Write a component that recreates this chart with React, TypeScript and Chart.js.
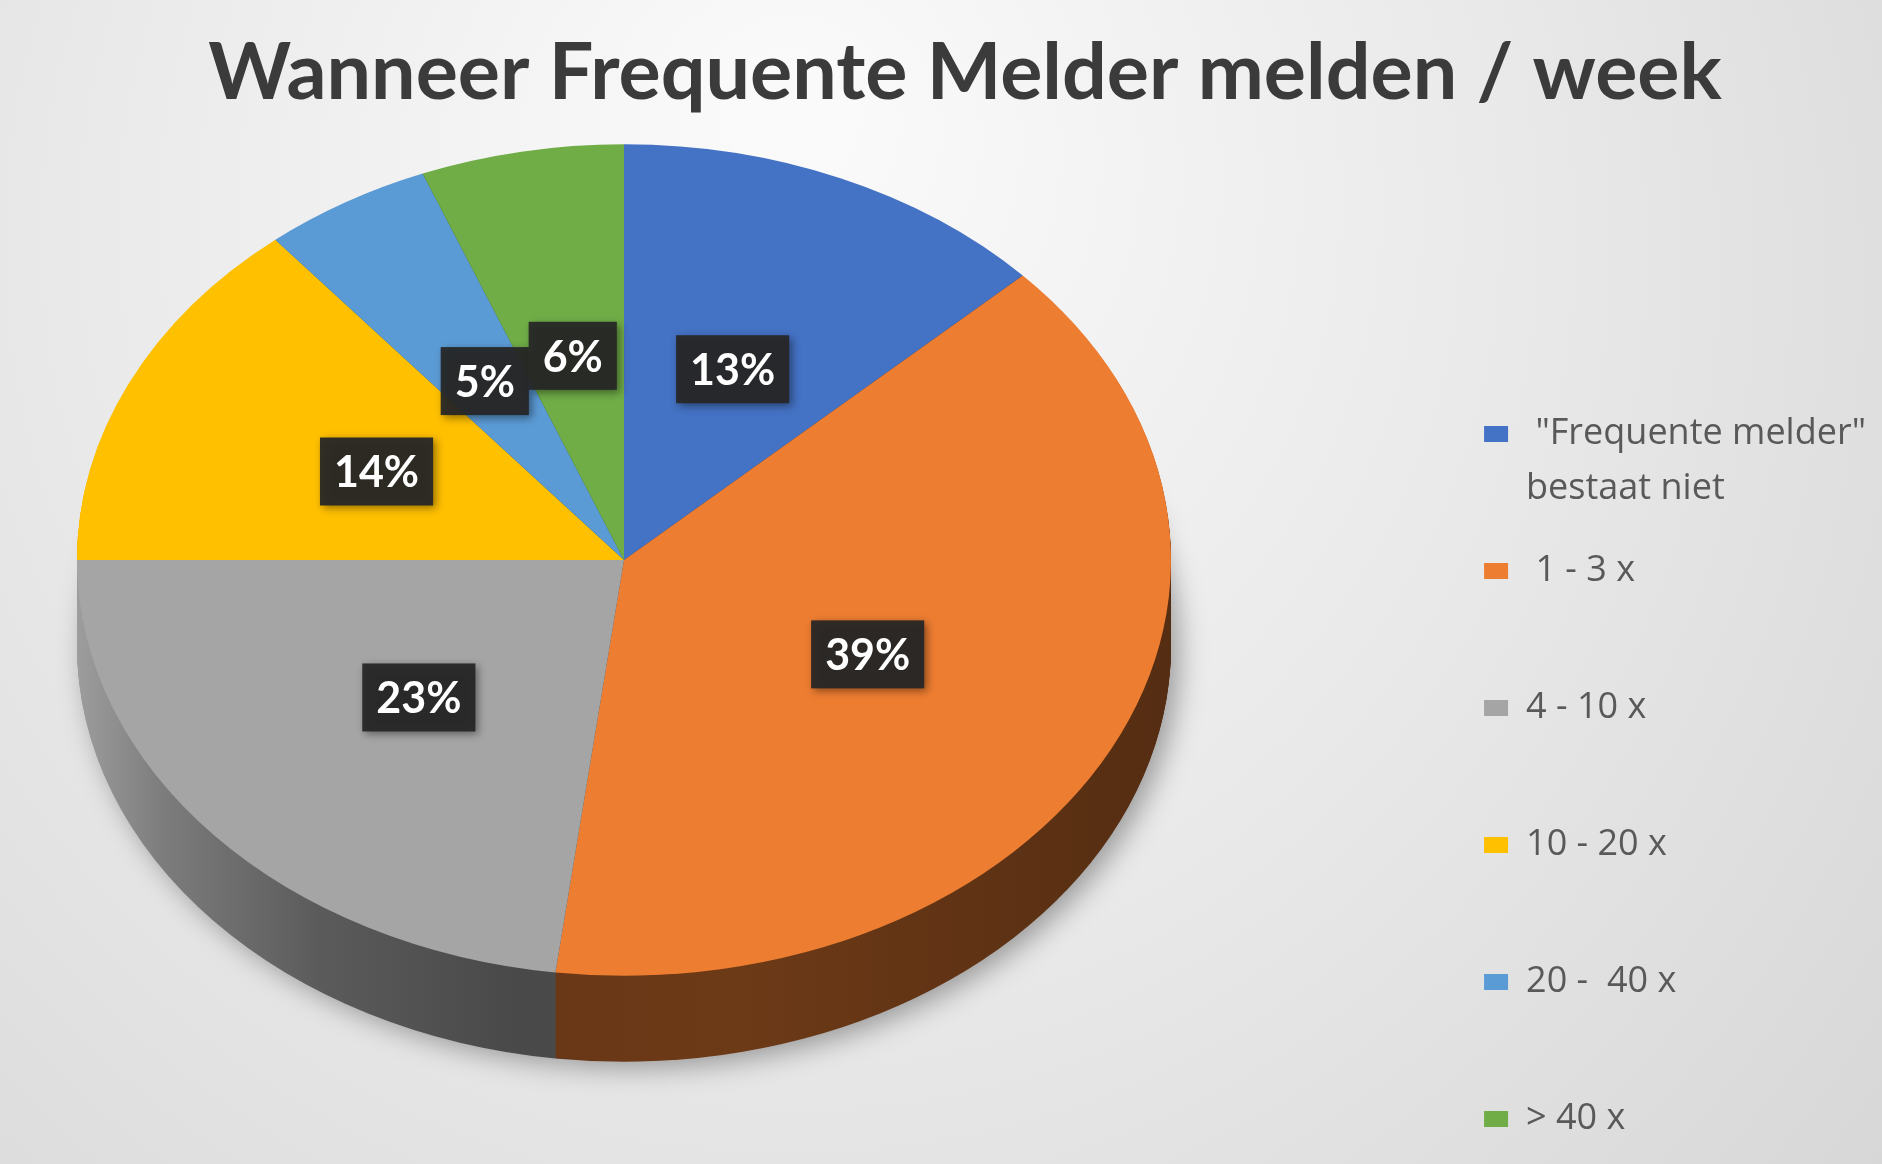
import { useEffect, useRef } from 'react';
import { Chart, registerables, ArcElement } from 'chart.js';

Chart.register(...registerables);

// ---- data ----
const chartTitle = 'Wanneer Frequente Melder melden / week';
const categories: (string | string[])[] = [
  [' "Frequente melder"', 'bestaat niet'],
  ' 1 - 3 x',
  '4 - 10 x',
  '10 - 20 x',
  '20 -  40 x',
  '> 40 x',
];
const percentages = [13, 39, 23, 14, 5, 6];
const sliceColors = ['#4472C4', '#ED7D31', '#A5A5A5', '#FFC000', '#5B9BD5', '#70AD47'];

// ---- helpers ----
function shade(hex: string, f: number) {
  const n = parseInt(hex.slice(1), 16);
  const r = Math.round(((n >> 16) & 255) * f);
  const g = Math.round(((n >> 8) & 255) * f);
  const b = Math.round((n & 255) * f);
  return `rgb(${r},${g},${b})`;
}

const backgroundPlugin = {
  id: 'bgPaint',
  beforeDraw(chart: any) {
    const { ctx, width, height } = chart;
    ctx.save();
    const g = ctx.createRadialGradient(width * 0.42, height * 0.1, 50, width * 0.42, height * 0.3, width * 0.75);
    g.addColorStop(0, '#fafafa');
    g.addColorStop(0.5, '#e9e9e9');
    g.addColorStop(1, '#d6d6d6');
    ctx.fillStyle = g;
    ctx.fillRect(0, 0, width, height);
    ctx.restore();
  },
};

const pie3dPlugin = {
  id: 'pie3d',
  beforeDatasetsDraw(chart: any, _args: any, opts: any) {
    const ctx = chart.ctx as CanvasRenderingContext2D;
    const arcs = chart.getDatasetMeta(0).data as any[];
    ctx.save();
    if (!arcs.length) return;
    const ox = arcs[0].x;
    const oy = arcs[0].y;
    const apply = (dy: number) => {
      ctx.translate(opts.centerX, opts.centerY + dy);
      ctx.scale(1, opts.tilt);
      ctx.translate(-ox, -oy);
    };
    const grads = arcs.map((arc, i) => {
      const R = arc.outerRadius;
      const g = ctx.createLinearGradient(ox - R, 0, ox + R, 0);
      (opts.sideShade as number[][]).forEach(([t, f]) => g.addColorStop(t, shade(sliceColors[i], f)));
      return g;
    });
    for (let d = opts.depth; d >= 1; d--) {
      ctx.save();
      if (d === opts.depth) {
        ctx.shadowColor = 'rgba(0,0,0,0.35)';
        ctx.shadowBlur = 28;
        ctx.shadowOffsetX = 8;
        ctx.shadowOffsetY = 6;
      }
      apply(d);
      arcs.forEach((arc, i) => {
        const tmp = Object.create(arc);
        tmp.options = { ...arc.options, backgroundColor: grads[i], borderWidth: 0 };
        ArcElement.prototype.draw.call(tmp, ctx);
      });
      ctx.restore();
    }
    apply(0);
  },
  afterDatasetsDraw(chart: any, _args: any, opts: any) {
    const ctx = chart.ctx as CanvasRenderingContext2D;
    ctx.restore();
    const arcs = chart.getDatasetMeta(0).data as any[];
    if (!arcs.length) return;
    const ox = arcs[0].x;
    const oy = arcs[0].y;
    ctx.save();
    ctx.font = opts.labelFont;
    ctx.textAlign = 'center';
    ctx.textBaseline = 'middle';
    arcs.forEach((arc, i) => {
      const p = arc.tooltipPosition(false);
      const sx = opts.centerX + (p.x - ox);
      const sy = opts.centerY + (p.y - oy) * opts.tilt;
      const text = `${percentages[i]}%`;
      const tw = ctx.measureText(text).width;
      const w = tw + 28;
      const h = 68;
      ctx.save();
      ctx.shadowColor = 'rgba(0,0,0,0.45)';
      ctx.shadowBlur = 8;
      ctx.shadowOffsetX = 3;
      ctx.shadowOffsetY = 3;
      ctx.fillStyle = 'rgba(38,38,38,0.94)';
      ctx.fillRect(sx - w / 2, sy - h / 2, w, h);
      ctx.restore();
      ctx.fillStyle = '#ffffff';
      ctx.fillText(text, sx, sy + 2);
    });
    ctx.restore();
  },
};

export default function App() {
  const canvasRef = useRef<HTMLCanvasElement>(null);

  useEffect(() => {
    const canvas = canvasRef.current;
    if (!canvas) return;
    const chart = new Chart(canvas, {
      type: 'pie',
      data: {
        labels: categories as any,
        datasets: [
          {
            data: percentages,
            backgroundColor: sliceColors,
            borderWidth: 0,
            radius: 547,
          } as any,
        ],
      },
      options: {
        animation: false,
        responsive: true,
        maintainAspectRatio: false,
        events: [],
        layout: { padding: { left: 54, right: 6, top: 0, bottom: 0 } },
        plugins: {
          tooltip: { enabled: false },
          title: {
            display: true,
            text: chartTitle,
            color: '#3b3b3b',
            font: { family: 'Lato', weight: 'bold', size: 79 },
            padding: { top: 26, bottom: 10 },
          },
          legend: {
            position: 'right',
            align: 'end',
            labels: {
              color: '#595959',
              font: { family: '"Open Sans"', size: 36, lineHeight: '55px' } as any,
              boxWidth: 24,
              boxHeight: 16,
              padding: 27,
              generateLabels: (ch: any) => {
                const base = (Chart as any).overrides.pie.plugins.legend.labels.generateLabels(ch);
                return base.map((it: any, i: number) => ({
                  ...it,
                  lineWidth: 0,
                  text: Array.isArray(it.text) ? it.text : i < base.length - 1 ? [it.text, ''] : it.text,
                }));
              },
            },
          },
          pie3d: {
            centerX: 624,
            centerY: 560,
            tilt: 0.76,
            depth: 86,
            sideShade: [
              [0, 0.95],
              [0.08, 0.75],
              [0.22, 0.55],
              [0.4, 0.44],
              [0.6, 0.46],
              [1, 0.36],
            ],
            labelFont: 'bold 43px Lato',
          },
        } as any,
      },
      plugins: [backgroundPlugin, pie3dPlugin],
    });
    return () => chart.destroy();
  }, []);

  return (
    <div style={{ position: 'fixed', left: 0, top: 0, width: 1882, height: 1164 }}>
      <canvas ref={canvasRef} />
    </div>
  );
}
